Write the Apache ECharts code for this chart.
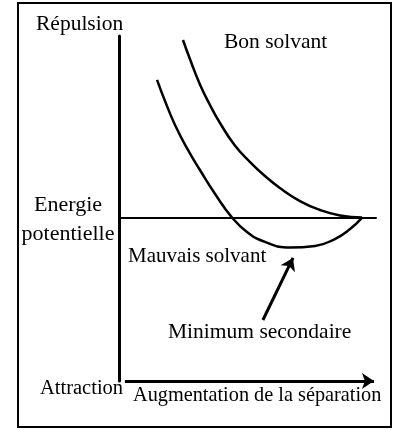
<!DOCTYPE html>
<html>
<head>
<meta charset="utf-8">
<script src="https://cdn.jsdelivr.net/npm/echarts@6/dist/echarts.min.js"></script>
<style>
  html, body { margin: 0; padding: 0; background: #fff; }
  #chart { width: 393px; height: 430px; }
</style>
</head>
<body>
<div id="chart"></div>
<script>
// Potential energy vs. separation (arbitrary units) for the two solvents
const bonSeparation = [2.49, 2.76, 3.15, 3.54, 3.93, 4.51, 5.10, 5.68, 6.26, 7.04, 7.82, 8.60, 9.46];
const bonEnergie = [9.78, 8.73, 7.33, 6.20, 5.21, 3.97, 3.06, 2.29, 1.63, 0.91, 0.42, 0.12, 0];
const mauvaisSeparation = [1.48, 1.79, 2.18, 2.65, 3.15, 3.74, 4.40, 4.98, 5.68, 6.65, 7.63, 8.40, 8.99, 9.46];
const mauvaisEnergie = [7.58, 6.42, 5.10, 3.81, 2.62, 1.30, 0, -0.79, -1.34, -1.65, -1.56, -1.18, -0.63, 0];

// Arrows, [separation, energy] from tail to head
const flecheMinimum = [[5.60, -5.64], [6.77, -2.22]];
const flecheSeparation = [[0.23, -9], [9.92, -9]];

const pairs = (xs, ys) => xs.map((x, i) => [x, ys[i]]);
const serif = '"Liberation Serif", "Times New Roman", serif';

function label(text, x, y, size, align) {
  return {
    type: 'text', x: x, y: y, silent: true,
    style: {
      text: text, font: size + 'px ' + serif, fill: '#000',
      textAlign: align || 'left', textVerticalAlign: 'middle', verticalAlign: 'middle'
    }
  };
}

const chart = echarts.init(document.getElementById('chart'), null, { renderer: 'canvas' });
chart.setOption({
  animation: false,
  backgroundColor: '#fff',
  grid: { left: 119, right: 17, top: 36, bottom: 49 },
  xAxis: {
    type: 'value', min: 0, max: 10,
    axisLine: { show: true, onZero: true, lineStyle: { color: '#000', width: 2 } },
    axisTick: { show: false }, axisLabel: { show: false }, splitLine: { show: false }
  },
  yAxis: {
    type: 'value', min: -9, max: 10,
    axisLine: { show: true, lineStyle: { color: '#000', width: 3 } },
    axisTick: { show: false }, axisLabel: { show: false }, splitLine: { show: false }
  },
  series: [
    {
      name: 'Bon solvant', type: 'line', smooth: 0.5,
      showSymbol: false, silent: true,
      lineStyle: { color: '#000', width: 2.5 },
      data: pairs(bonSeparation, bonEnergie)
    },
    {
      name: 'Mauvais solvant', type: 'line', smooth: 0.5,
      showSymbol: false, silent: true,
      lineStyle: { color: '#000', width: 2.5 },
      data: pairs(mauvaisSeparation, mauvaisEnergie),
      markLine: {
        silent: true,
        symbol: ['none', 'arrow'],
        symbolSize: 12,
        label: { show: false },
        lineStyle: { type: 'solid', color: '#000', width: 3 },
        itemStyle: { color: '#000' },
        emphasis: { disabled: true },
        data: [
          [{ coord: flecheMinimum[0] }, { coord: flecheMinimum[1] }],
          [{ coord: flecheSeparation[0] }, { coord: flecheSeparation[1] }]
        ]
      }
    }
  ],
  graphic: [
    {
      type: 'rect', silent: true,
      shape: { x: 18, y: 3, width: 373, height: 424 },
      style: { fill: 'none', stroke: '#000', lineWidth: 2 }
    },
    label('Répulsion', 36, 24, 21.5),
    label('Bon solvant', 224, 42, 21.5),
    label('Energie', 68, 205, 22, 'center'),
    label('potentielle', 68, 234, 22, 'center'),
    label('Mauvais solvant', 128, 256, 21),
    label('Minimum secondaire', 168, 332, 21.5),
    label('Attraction', 40, 389, 20.5),
    label('Augmentation de la séparation', 133, 396, 20.3)
  ]
});
</script>
</body>
</html>
